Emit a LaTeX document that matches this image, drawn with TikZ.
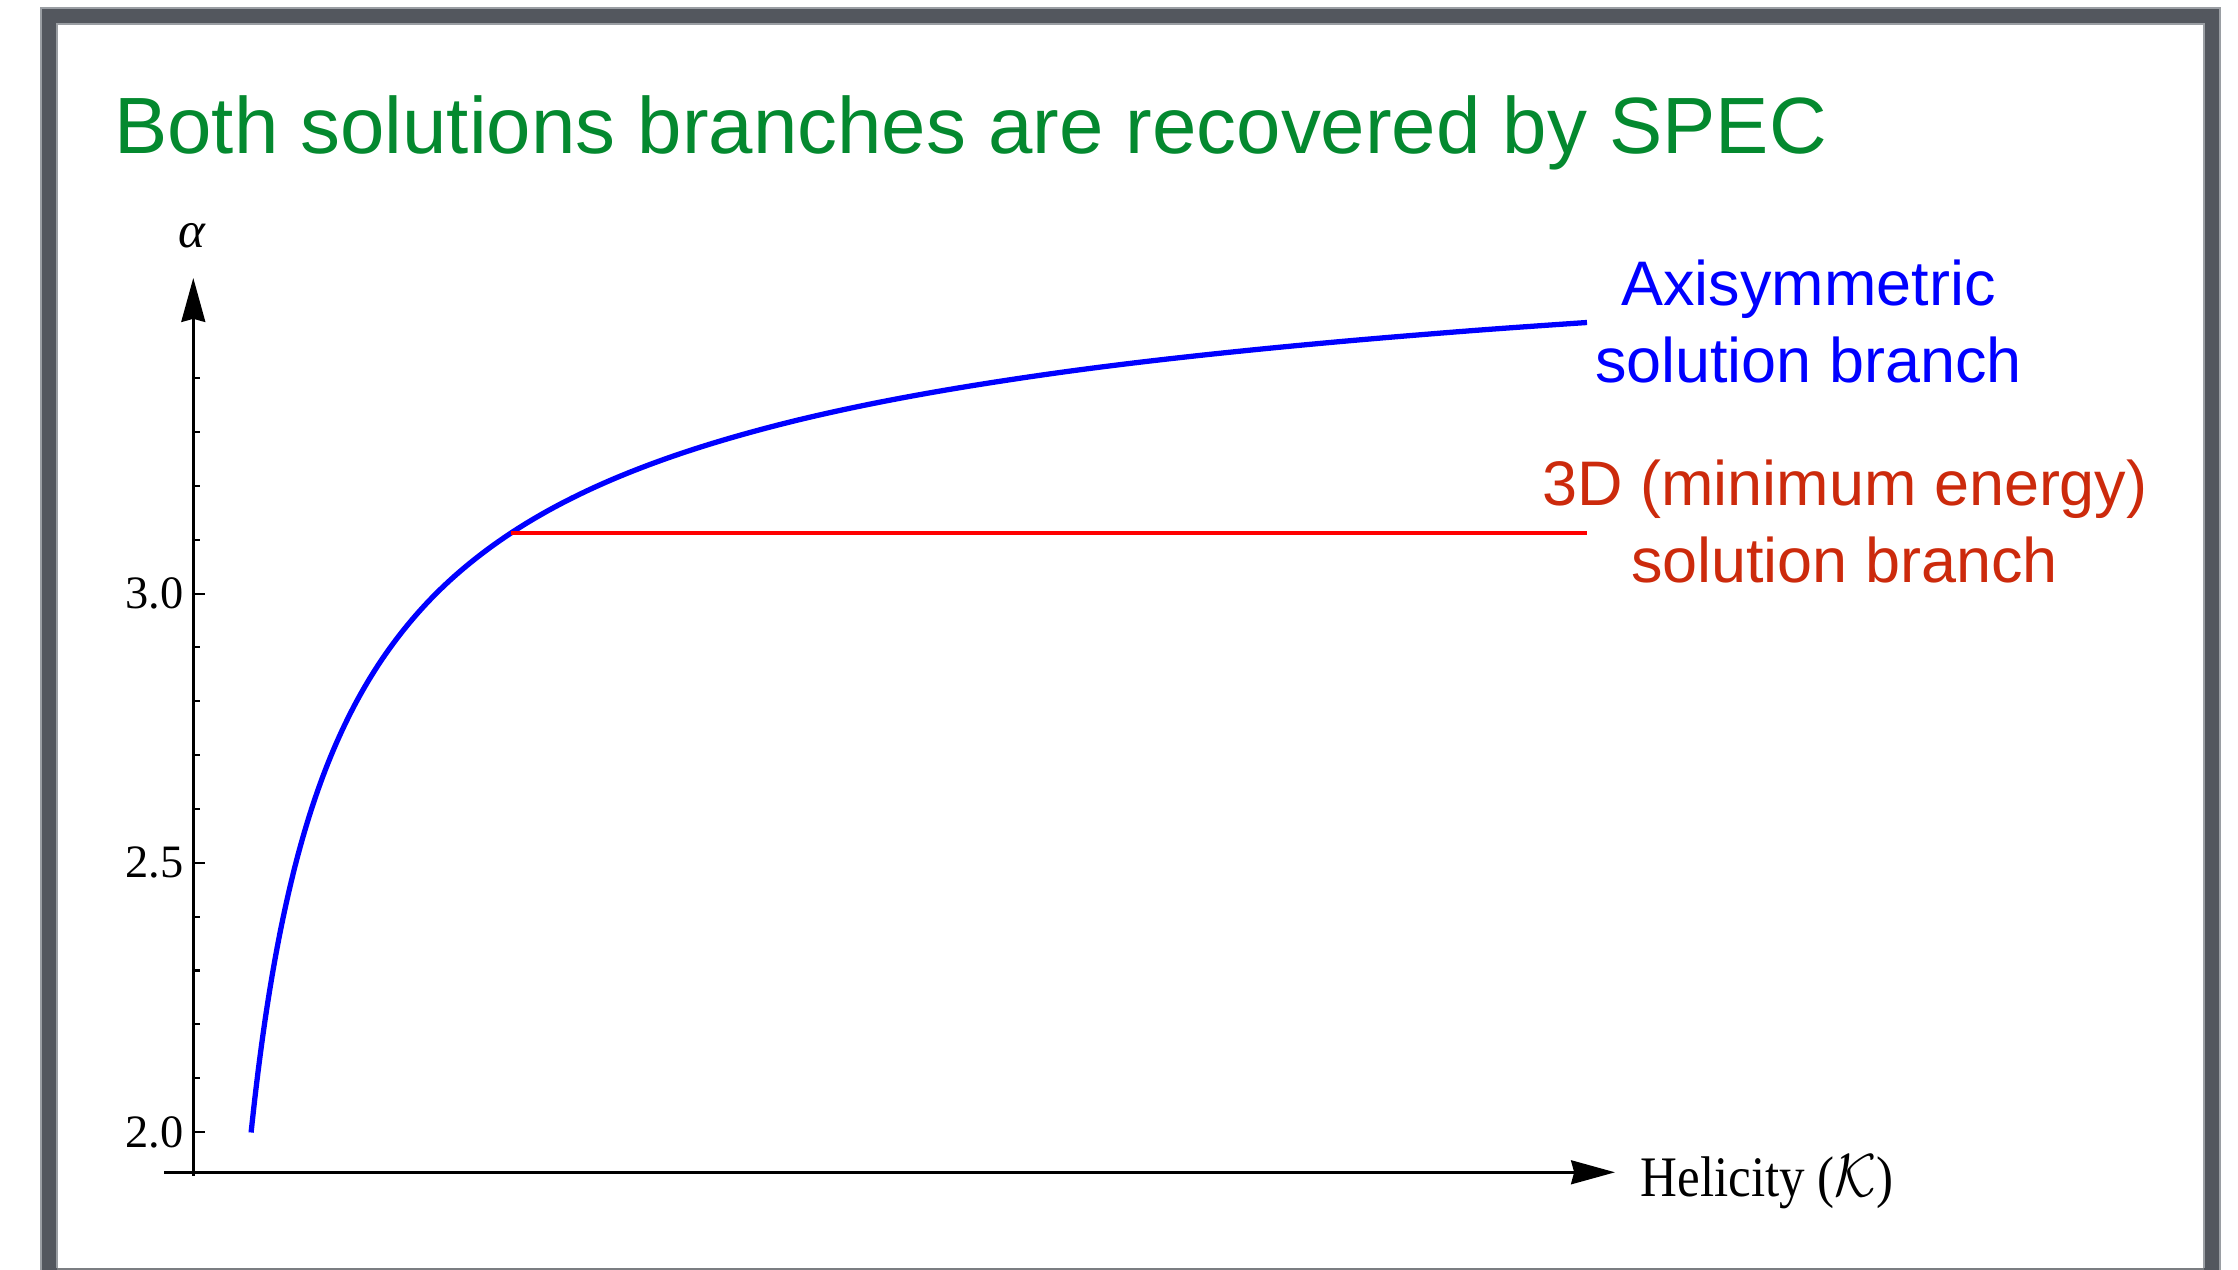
\documentclass[tikz,border=0pt]{standalone}
\usepackage{fontspec}
\setmainfont{Liberation Serif}
\newfontfamily\arialf{Liberation Sans}
\usetikzlibrary{arrows.meta}
\definecolor{framegray}{HTML}{53575E}
\definecolor{frameedge}{HTML}{9A9EA3}
\definecolor{titlegreen}{HTML}{04892F}
\definecolor{labred}{HTML}{CC2A0C}
\definecolor{curveblue}{HTML}{0000FF}
\definecolor{curvered}{HTML}{FF0000}
\begin{document}
\begin{tikzpicture}[x=0.01cm, y=-0.01cm,
  axisline/.style={line width=0.75pt, black},
  axarrow/.style={-{Stealth[length=12.5pt, width=6.8pt, inset=0.9pt]}},
  ticklab/.style={font=\fontsize{13.2}{15}\selectfont, anchor=east, inner sep=0pt},
  sanslab/.style={font=\arialf\fontsize{17.9}{21}\selectfont, anchor=base, inner sep=0pt},
  bluecurve/.style={curveblue, line width=1.5pt, line cap=butt, line join=round},
  redbranch/.style={curvered, line width=1.35pt}
]
\useasboundingbox (0,0) rectangle (2238,1270);
\fill[white] (0,0) rectangle (2238,1270);
% slide frame
\fill[framegray] (41,8) rectangle (2220,1270);
\fill[white] (57,24) rectangle (2204,1268);
\draw[frameedge, line width=0.3pt] (41,1270) -- (41,8) -- (2220,8) -- (2220,1270);
\draw[frameedge, line width=0.3pt] (57,1268) -- (57,24) -- (2204,24) -- (2204,1268);
\draw[frameedge!80!black, line width=0.6pt] (57,1269) -- (2204,1269);

% title
\node[font=\arialf\fontsize{22.7}{27}\selectfont, text=titlegreen, anchor=base west, inner sep=0pt]
  (title) at (113.5,154) {Both solutions branches are recovered by SPEC};

% axes
\coordinate (yfoot) at (193.3,1176);
\coordinate (ytip) at (193.3,278);
\coordinate (xstart) at (164,1172.3);
\coordinate (xtip) at (1615,1172.3);
\draw[axisline, axarrow] (yfoot) -- (ytip);
\draw[axisline, axarrow] (xstart) -- (xtip);

% ticks
\foreach \k in {0,...,14}{
  \pgfmathsetmacro{\yy}{1132-\k*53.84}
  \pgfmathsetmacro{\len}{ifthenelse(mod(\k,5)==0,12,7)}
  \draw[line width=0.6pt] (193.3,\yy) -- ++(\len,0);
}
\node[ticklab] (t20) at (184,1132) {2.0};
\node[ticklab] (t25) at (184,862.8) {2.5};
\node[ticklab] (t30) at (184,593.6) {3.0};

% axis labels
\node[font=\fontsize{14.5}{16}\selectfont\itshape, inner sep=0pt] (alab) at (191.5,235.5) {α};
\node[font=\fontsize{16.3}{18}\selectfont, anchor=base west, inner sep=0pt] (xlab) at (1640,1196.7)
  {\scalebox{0.89}[1]{Helicity ($\mathcal{K}$)}};

% branches
\coordinate (bstart) at (251.1,1132.5);
\coordinate (junc) at (511,533);
\coordinate (bend) at (1587,322.5);
\coordinate (rend) at (1587,533);
\draw[bluecurve] plot[smooth, tension=0.6] coordinates {
 (251.1,1132.5) (255,1097.1) (260,1056.6) (266,1013.8) (273,970.6) (281,927.9)
 (290,886.8) (300,847.5) (312,807.5) (326,768.2) (342,730.6) (360,695.2)
 (381,660.8) (405,628.2) (432,597.7) (462,569.7) (496,543.3) (534,518.7)
 (577,495.6) (625,474.2) (680,453.8) (742,434.7) (812,416.7) (892,399.8)
 (982,384.1) (1085,369.1) (1200,355.4) (1330,342.5) (1470,330.8) (1587,322.5)};
\draw[redbranch] (junc) -- (rend);

% branch labels
\node[sanslab, text=curveblue] (ax1) at (1808.5,305.7) {Axisymmetric};
\node[sanslab, text=curveblue] (ax2) at (1808.5,382.7) {solution branch};
\node[sanslab, text=labred] (rd1) at (1845,505.7) {3D (minimum energy)};
\node[sanslab, text=labred] (rd2) at (1844.5,582.3) {solution branch};
\end{tikzpicture}
\end{document}
